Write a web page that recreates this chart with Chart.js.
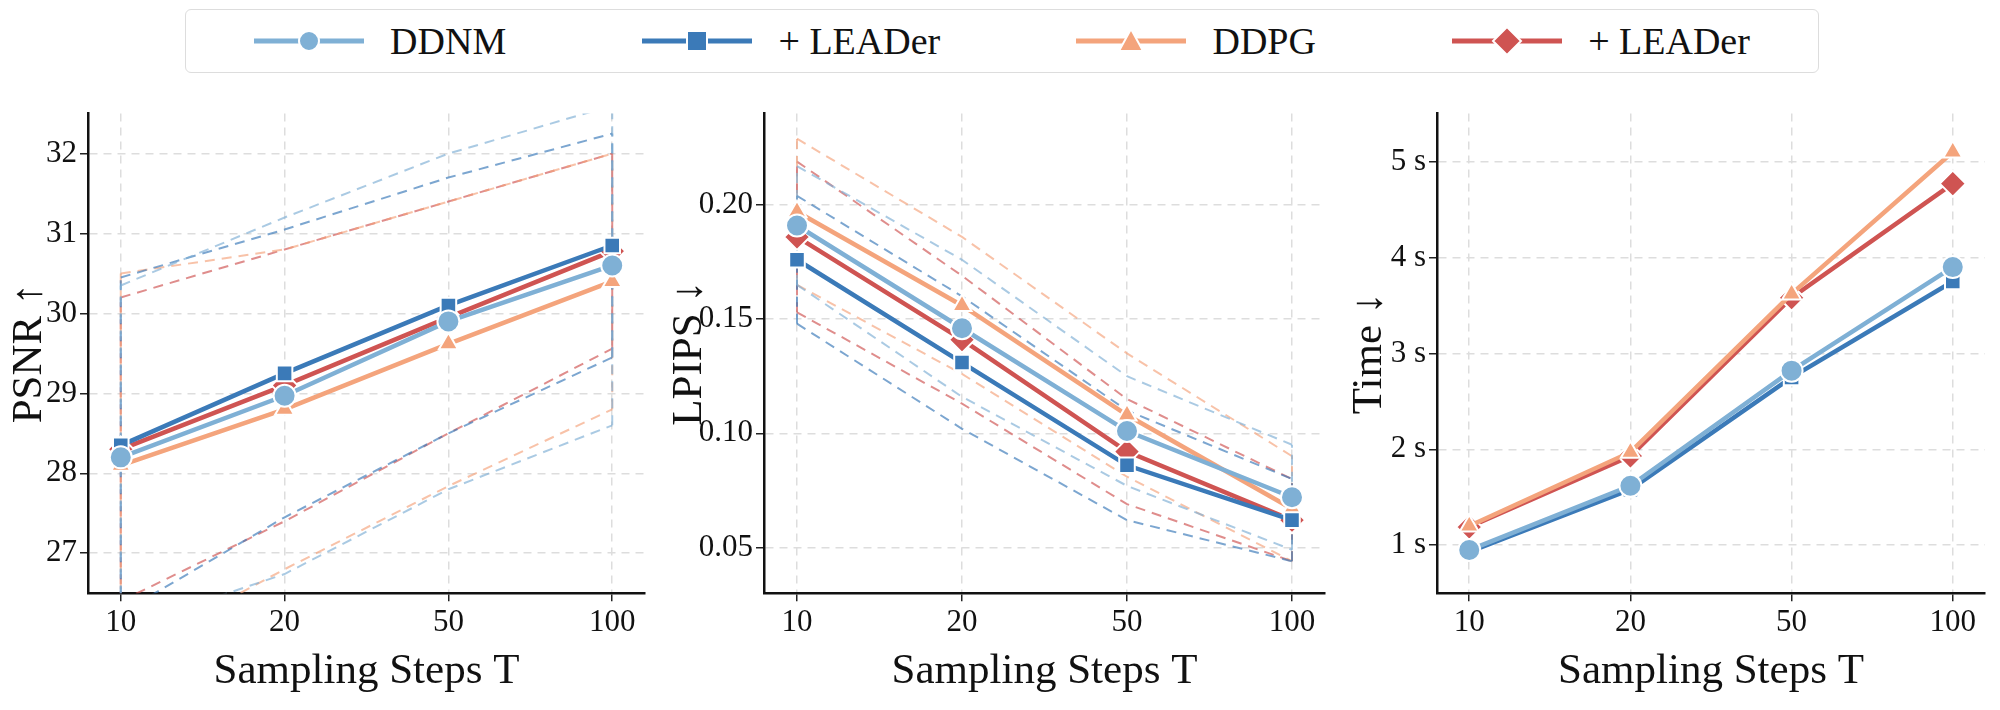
<!DOCTYPE html>
<html>
<head>
<meta charset="utf-8">
<script src="https://cdn.jsdelivr.net/npm/chart.js@4"></script>
<style>
  body { margin: 0; background: #fff; font-family: "Liberation Serif", serif; }
  #wrap { position: relative; width: 2000px; height: 710px; }
  .panel { position: absolute; top: 92px; height: 614px; }
  #legend { position: absolute; left: 185px; top: 9px; width: 1632px; height: 62px; border: 1px solid #ddd; border-radius: 6px;
    display: flex; align-items: center; justify-content: space-around; font-size: 38px; color: #111; }
  .item { display: flex; align-items: center; gap: 26px; }
</style>
</head>
<body>
<div id="wrap">
  <div id="legend"></div>
  <div class="panel" style="left:0;width:660px"><canvas id="psnr"></canvas></div>
  <div class="panel" style="left:660px;width:680px"><canvas id="lpips"></canvas></div>
  <div class="panel" style="left:1340px;width:660px"><canvas id="time"></canvas></div>
</div>
<script>
// ------- Data -------
const steps = ["10", "20", "50", "100"];
const names = ["DDNM", "+ LEADer", "DDPG", "+ LEADer"];
const colors = ["#7fb0d5", "#3b7ab8", "#f4a47c", "#cf5452"];
const markers = ["circle", "rect", "triangle", "rectRot"];

// PSNR means and upper band
const psnrDDNM = [28.2, 28.97, 29.9, 30.6];
const psnrDDNMLead = [28.35, 29.25, 30.1, 30.85];
const psnrDDPG = [28.1, 28.8, 29.62, 30.4];
const psnrDDPGLead = [28.3, 29.1, 29.95, 30.78];
const psnrUpDDNM = [30.35, 31.2, 32.0, 32.6];
const psnrUpDDNMLead = [30.45, 31.05, 31.7, 32.25];
const psnrUpDDPG = [30.5, 30.8, 31.4, 32.0];
const psnrUpDDPGLead = [30.2, 30.8, 31.4, 32.0];

// LPIPS
const lpDDNM = [0.191, 0.146, 0.101, 0.072];
const lpDDNMLead = [0.176, 0.131, 0.086, 0.062];
const lpDDPG = [0.197, 0.156, 0.108, 0.067];
const lpDDPGLead = [0.186, 0.141, 0.092, 0.062];
const lpUpDDNM = [0.217, 0.176, 0.125, 0.095];
const lpUpDDNMLead = [0.204, 0.160, 0.110, 0.080];
const lpUpDDPG = [0.229, 0.186, 0.135, 0.090];
const lpUpDDPGLead = [0.219, 0.169, 0.115, 0.080];

// Time (s)
const tDDNM = [0.95, 1.62, 2.82, 3.9];
const tDDNMLead = [0.93, 1.58, 2.75, 3.75];
const tDDPG = [1.2, 1.97, 3.62, 5.1];
const tDDPGLead = [1.19, 1.93, 3.58, 4.77];

const FONT = "Liberation Serif";

function pts(arr) { return arr.map((v, i) => ({ x: i, y: v })); }

function buildSets(means, ups) {
  let sets = [];
  means.forEach((m, k) => {
    if (ups) {
      let up = ups[k], lo = m.map((v, i) => 2 * v - up[i]);
      let band = { borderColor: colors[k] + "aa", borderWidth: 2, borderDash: [10, 7], pointRadius: 0, order: 2, showLine: true };
      sets.push(Object.assign({ data: pts(up) }, band));
      sets.push(Object.assign({ data: pts(lo) }, band));
      sets.push(Object.assign({ data: [{ x: 0, y: lo[0] }, { x: 0, y: up[0] }] }, band));
      sets.push(Object.assign({ data: [{ x: 3, y: lo[3] }, { x: 3, y: up[3] }] }, band));
    }
    sets.push({
      data: pts(m), borderColor: colors[k], backgroundColor: colors[k], borderWidth: 4.5, showLine: true, order: 1,
      pointStyle: markers[k], pointRadius: k == 3 ? 13 : 11, pointBorderColor: "#fff", pointBorderWidth: 2
    });
  });
  return sets;
}

function makeChart(id, sets, ymin, ymax, step, title, fmt, yWidth) {
  new Chart(id, {
    type: "scatter",
    data: { datasets: sets },
    options: {
      animation: false, maintainAspectRatio: false, responsive: true,
      layout: { padding: { right: 8, bottom: 4, top: 14 } },
      plugins: { legend: { display: false }, tooltip: { enabled: false } },
      scales: {
        x: {
          type: "linear", min: -0.2, max: 3.2,
          afterBuildTicks: (s) => { s.ticks = [0, 1, 2, 3].map(v => ({ value: v })); },
          ticks: { callback: (v) => steps[v], font: { family: FONT, size: 31 }, color: "#111" },
          grid: { color: "#ddd", tickColor: "#222", tickLength: 8, lineWidth: 1.5 },
          border: { color: "#111", width: 2.5, dash: [8, 6] },
          title: { display: true, text: "Sampling Steps T", font: { family: FONT, size: 43 }, color: "#111", padding: { top: 2 } }
        },
        y: {
          min: ymin, max: ymax,
          afterBuildTicks: (s) => {
            let t = [];
            for (let v = Math.ceil(ymin / step) * step; v <= ymax + 1e-9; v += step) t.push({ value: +v.toFixed(4) });
            s.ticks = t;
          },
          afterFit: (s) => { s.width = yWidth; },
          ticks: { callback: fmt, font: { family: FONT, size: 31 }, color: "#111" },
          grid: { color: "#ddd", tickColor: "#222", tickLength: 8, lineWidth: 1.5 },
          border: { color: "#111", width: 2.5, dash: [8, 6] },
          title: { display: true, text: title, font: { family: FONT, size: 43 }, color: "#111" }
        }
      }
    }
  });
}

makeChart("psnr", buildSets([psnrDDNM, psnrDDNMLead, psnrDDPG, psnrDDPGLead], [psnrUpDDNM, psnrUpDDNMLead, psnrUpDDPG, psnrUpDDPGLead]),
  26.5, 32.5, 1, "PSNR ↑", (v) => v, 88);
makeChart("lpips", buildSets([lpDDNM, lpDDNMLead, lpDDPG, lpDDPGLead], [lpUpDDNM, lpUpDDNMLead, lpUpDDPG, lpUpDDPGLead]),
  0.03, 0.24, 0.05, "LPIPS ↓", (v) => v.toFixed(2), 104);
makeChart("time", buildSets([tDDNM, tDDNMLead, tDDPG, tDDPGLead], null),
  0.5, 5.5, 1, "Time ↓", (v) => v + " s", 97);

// ------- Legend -------
let legend = document.getElementById("legend");
names.forEach((n, k) => {
  let c = colors[k], m;
  if (k == 0) m = `<circle cx="55" cy="15" r="10" fill="${c}" stroke="#fff" stroke-width="2"/>`;
  if (k == 1) m = `<rect x="45" y="5" width="20" height="20" fill="${c}" stroke="#fff" stroke-width="2"/>`;
  if (k == 2) m = `<polygon points="55,3 67,25 43,25" fill="${c}" stroke="#fff" stroke-width="2"/>`;
  if (k == 3) m = `<polygon points="55,1 69,15 55,29 41,15" fill="${c}" stroke="#fff" stroke-width="2"/>`;
  legend.innerHTML += `<div class="item"><svg width="110" height="30"><line x1="0" y1="15" x2="110" y2="15" stroke="${c}" stroke-width="5"/>${m}</svg><span>${n}</span></div>`;
});
</script>
</body>
</html>
